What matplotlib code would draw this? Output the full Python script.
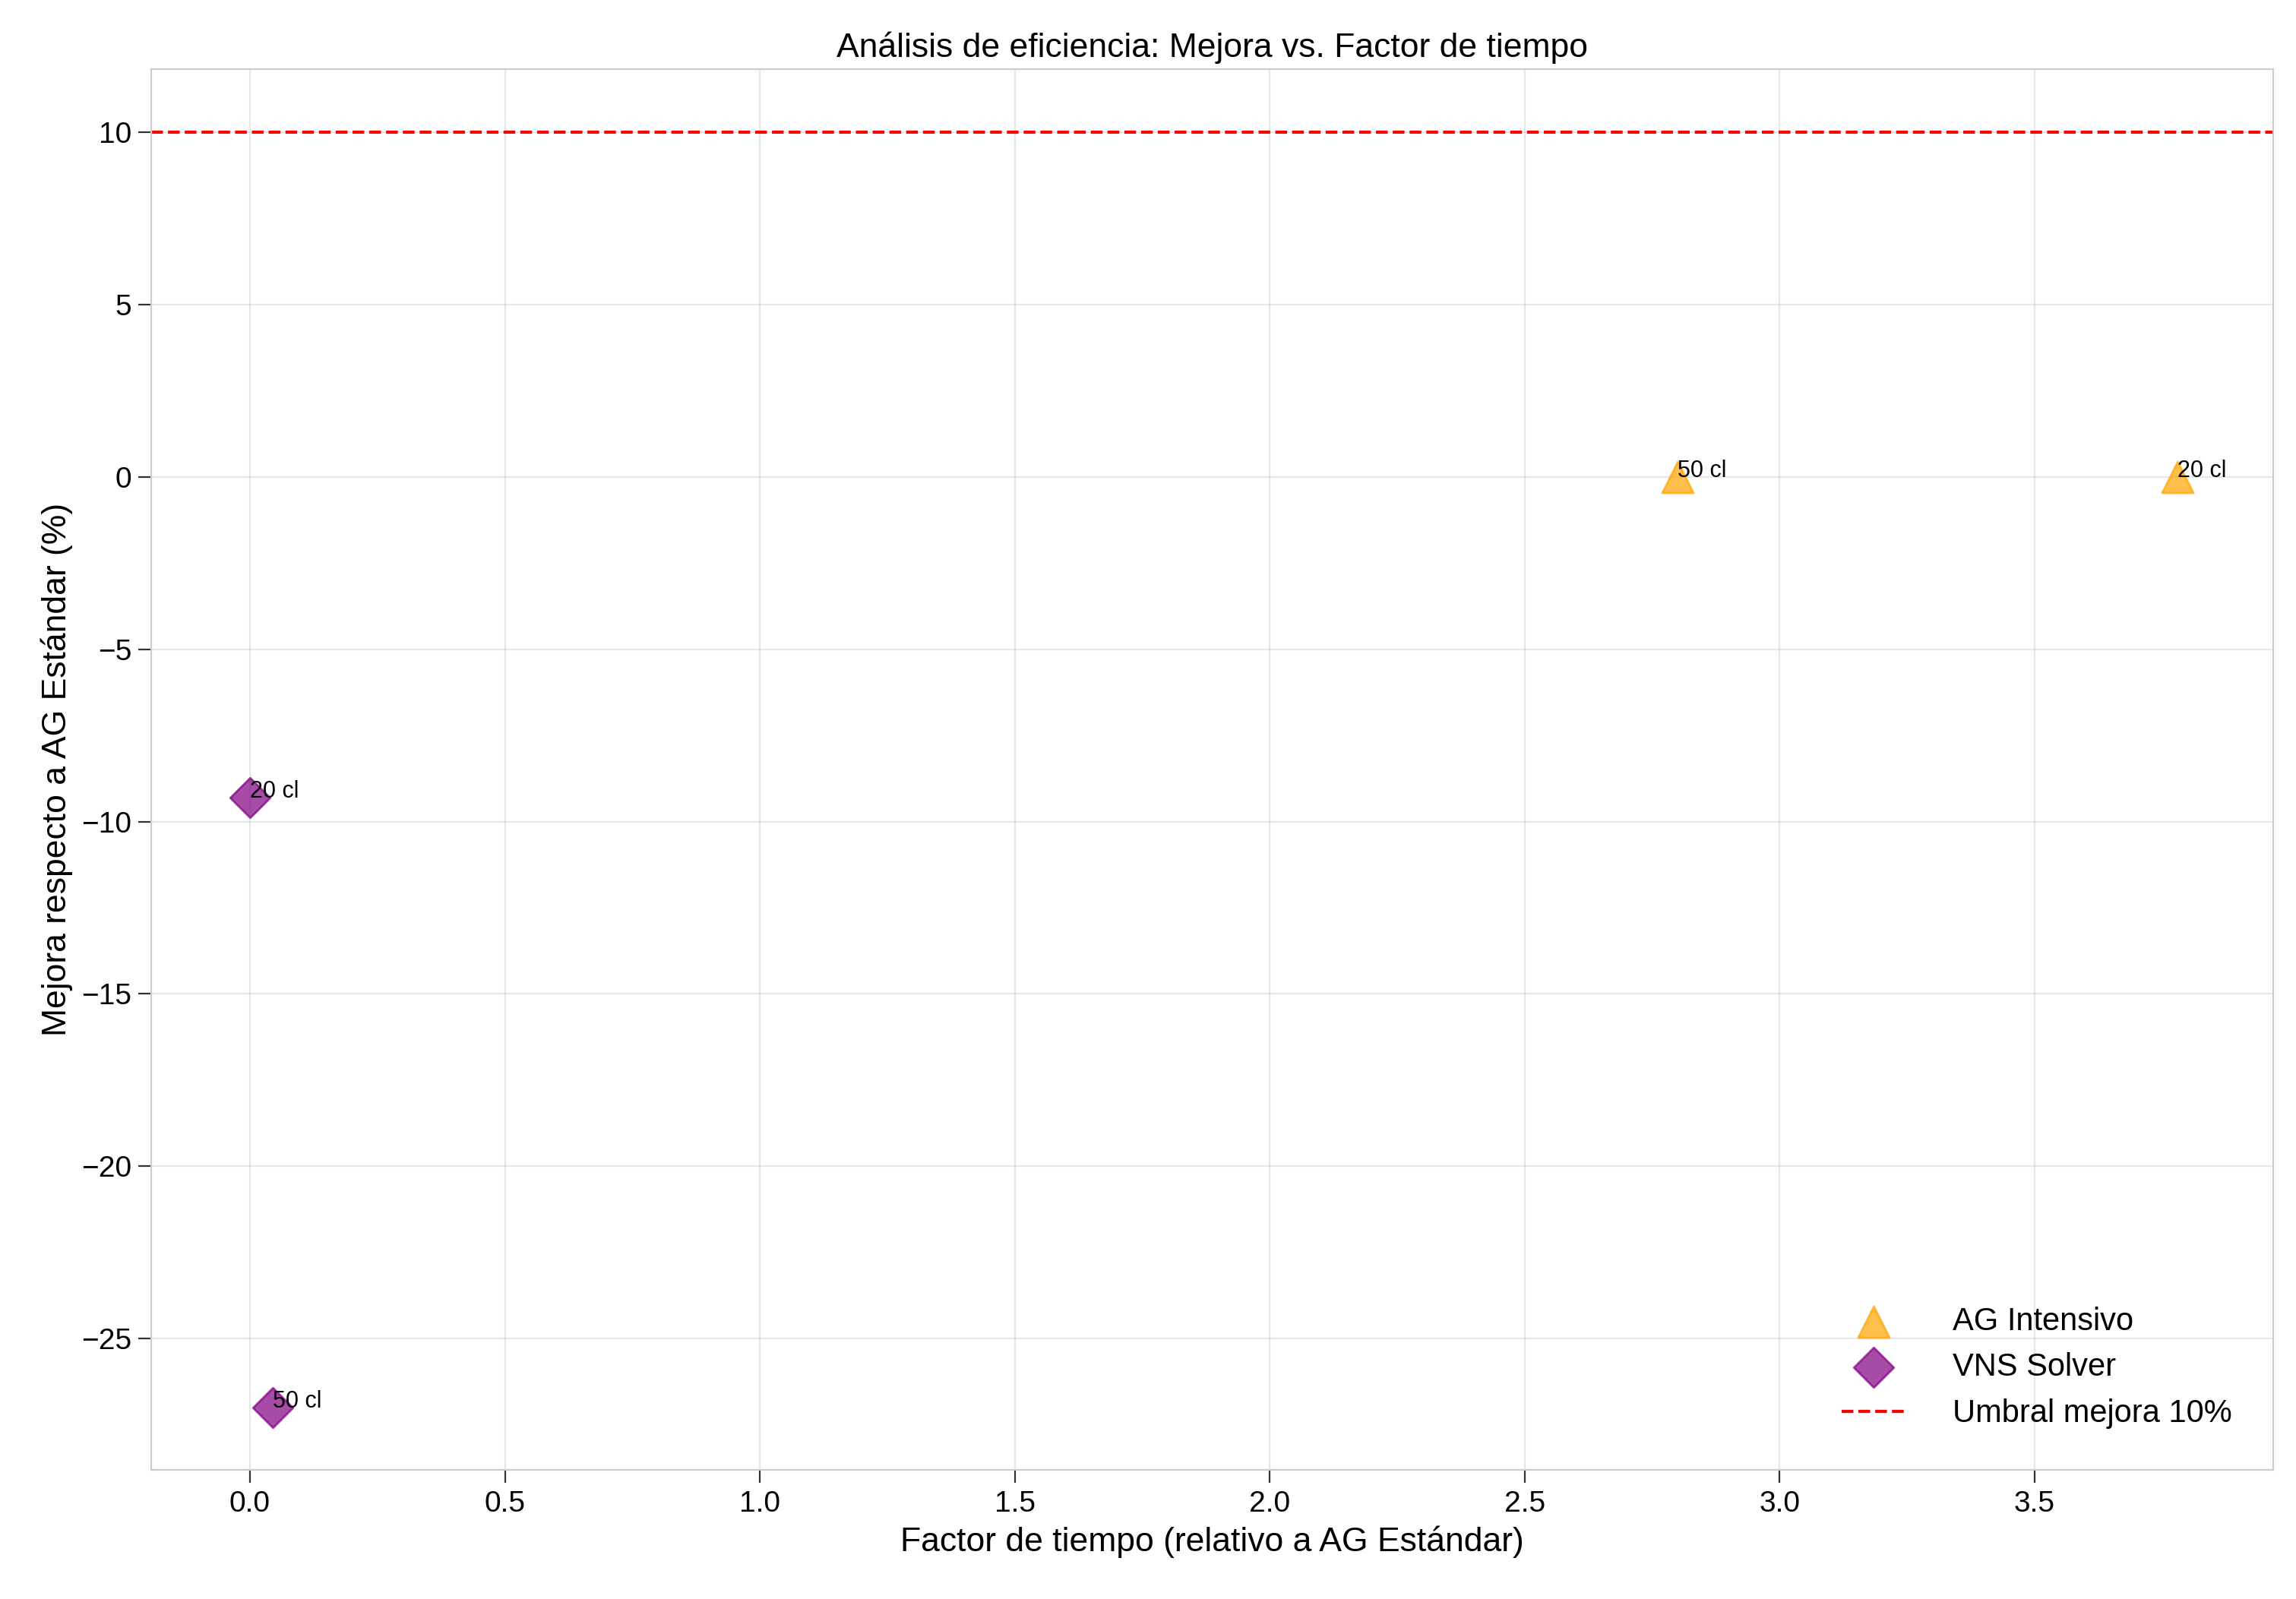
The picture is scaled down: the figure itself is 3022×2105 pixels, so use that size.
import matplotlib
matplotlib.use("Agg")
import matplotlib.pyplot as plt

plt.rcParams['font.family'] = ['Liberation Sans', 'DejaVu Sans']

ag_x = [2.80, 3.78]
ag_y = [0.0, 0.0]
ag_labels = ["50 cl", "20 cl"]
vns_x = [0.0, 0.045]
vns_y = [-9.3, -27.0]
vns_labels = ["20 cl", "50 cl"]
threshold = 10

fig = plt.figure(figsize=(15.11, 10.525), dpi=200)
ax = fig.add_axes([0.066, 0.0806, 0.924, 0.876])
ax.scatter(ag_x, ag_y, marker='^', s=220, color='orange', alpha=0.7, label='AG Intensivo', zorder=3)
ax.scatter(vns_x, vns_y, marker='D', s=180, color='purple', alpha=0.7, label='VNS Solver', zorder=3)
for x, y, t in zip(ag_x, ag_y, ag_labels):
    ax.annotate(t, (x, y), fontsize=11)
for x, y, t in zip(vns_x, vns_y, vns_labels):
    ax.annotate(t, (x, y), fontsize=11)
ax.axhline(threshold, color='red', linestyle='--', linewidth=1.5, label='Umbral mejora 10%')
ax.set_xlim(-0.193, 3.968)
ax.set_ylim(-28.82, 11.83)
ax.grid(True, alpha=0.3)
for s in ax.spines.values():
    s.set_color('#cccccc')
ax.tick_params(labelsize=14, length=6, color='#333333')
ax.set_xlabel('Factor de tiempo (relativo a AG Estándar)', fontsize=16)
ax.set_ylabel('Mejora respecto a AG Estándar (%)', fontsize=16)
ax.set_title('Análisis de eficiencia: Mejora vs. Factor de tiempo', fontsize=16)
ax.legend(loc='lower right', fontsize=15, frameon=False, handletextpad=1.5, borderaxespad=0.9)
fig.savefig('out.png', dpi=200)
